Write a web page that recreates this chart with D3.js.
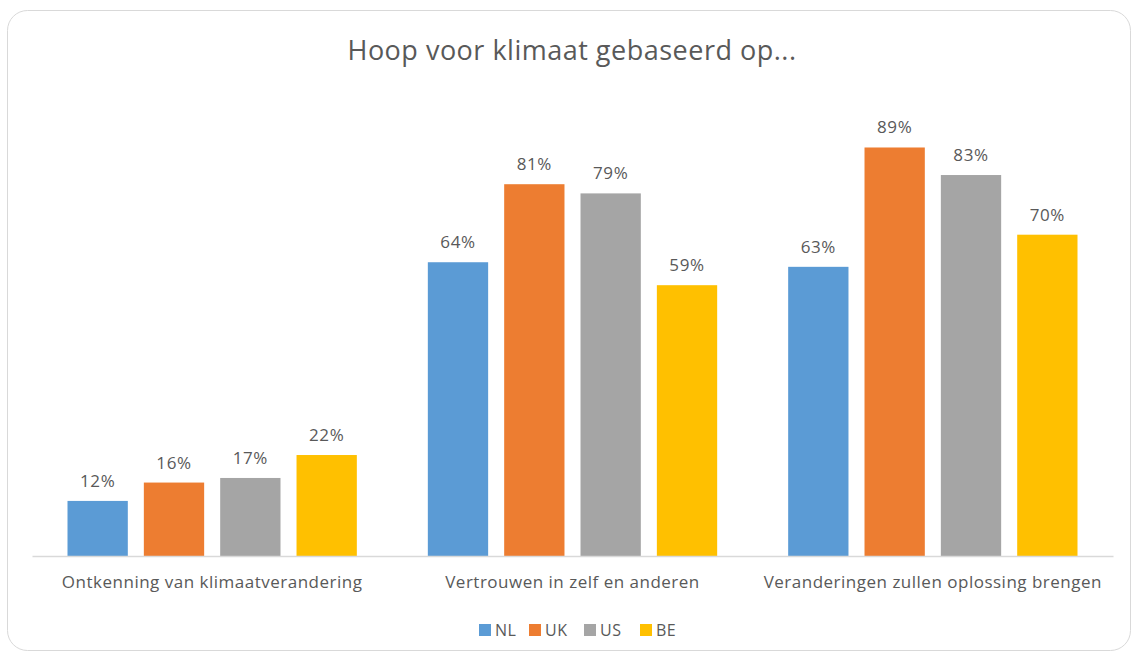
<!DOCTYPE html>
<html>
<head>
<meta charset="utf-8">
<script src="https://cdn.jsdelivr.net/npm/d3@7"></script>
<style>
  body { margin: 0; background: #fff; }
  text { font-family: "Open Sans", sans-serif; fill: #595959; }
</style>
</head>
<body>
<div id="chart-container"></div>
<script>
// grouped bar chart, hope for climate
const svgWidth = 1132;
const svgHeight = 657;
const margin = { top: 97, right: 19, bottom: 101, left: 32 };
const width = svgWidth - margin.left - margin.right;
const height = svgHeight - margin.top - margin.bottom;

const categories = ["Ontkenning van klimaatverandering", "Vertrouwen in zelf en anderen", "Veranderingen zullen oplossing brengen"];
const seriesNames = ["NL", "UK", "US", "BE"];
const NL = [0.12, 0.64, 0.63];
const UK = [0.16, 0.81, 0.89];
const US = [0.17, 0.79, 0.83];
const BE = [0.22, 0.59, 0.70];
const colors = ["#5b9bd5", "#ed7d31", "#a5a5a5", "#ffc000"];

const seriesValues = [NL, UK, US, BE];
const rows = [];
categories.forEach((c, i) => {
    seriesNames.forEach((s, j) => {
        rows.push({ cat: c, series: s, value: seriesValues[j][i] });
    });
});

const root = d3.select("#chart-container")
    .append("svg")
    .attr("width", svgWidth)
    .attr("height", svgHeight);

// card border
root.append("rect")
    .attr("x", 7.5)
    .attr("y", 10.5)
    .attr("width", 1123)
    .attr("height", 640)
    .attr("rx", 20)
    .attr("fill", "#fff")
    .attr("stroke", "#d9d9d9")
    .attr("stroke-width", 1);

root.append("text")
    .text("Hoop voor klimaat gebaseerd op...")
    .attr("x", 572)
    .attr("y", 60)
    .attr("text-anchor", "middle")
    .style("font-size", "27px")
    .style("letter-spacing", "0.5px");

const svg = root.append("g")
    .attr("transform", `translate(${margin.left},${margin.top})`);

const x0 = d3.scaleBand()
    .domain(categories)
    .range([0, width])
    .paddingInner(0)
    .paddingOuter(0);

const x1 = d3.scaleBand()
    .domain(seriesNames)
    .range([35.5, x0.bandwidth() - 35.5])
    .paddingInner(0.21);

const y = d3.scaleLinear()
    .domain([0, 1])
    .range([height, 0]);

const color = d3.scaleOrdinal().domain(seriesNames).range(colors);

// bars
svg.selectAll(".bar")
    .data(rows)
    .enter()
    .append("rect")
    .attr("class", "bar")
    .attr("x", d => x0(d.cat) + x1(d.series))
    .attr("y", d => y(d.value))
    .attr("width", x1.bandwidth())
    .attr("height", d => height - y(d.value))
    .attr("fill", d => color(d.series));

svg.selectAll(".barLabel")
    .data(rows)
    .enter()
    .append("text")
    .attr("class", "barLabel")
    .text(d => `${Math.round(d.value * 100)}%`)
    .attr("x", d => x0(d.cat) + x1(d.series) + x1.bandwidth() / 2)
    .attr("y", d => y(d.value) - 14)
    .attr("text-anchor", "middle")
    .style("font-size", "17px")
    .style("letter-spacing", "0.6px");

// x axis
const xAxis = svg.append("g")
    .attr("class", "axis axis-x")
    .attr("transform", `translate(0, ${height})`)
    .call(d3.axisBottom(x0).tickSize(0).tickPadding(20));
xAxis.select(".domain").attr("stroke", "#d9d9d9").attr("stroke-width", 1.5);
xAxis.selectAll("text")
    .style("font-size", "17px")
    .style("letter-spacing", "0.5px")
    .style("font-family", "\"Open Sans\", sans-serif")
    .attr("fill", "#595959");

// legend
const legendX = [479, 529, 584, 640];
const legend = root.selectAll(".legend")
    .data(seriesNames)
    .enter()
    .append("g")
    .attr("class", "legend")
    .attr("transform", (d, i) => `translate(${legendX[i]}, 624)`);
legend.append("rect")
    .attr("width", 12)
    .attr("height", 12)
    .attr("fill", d => color(d));
legend.append("text")
    .text(d => d)
    .attr("x", 16)
    .attr("y", 12)
    .style("font-size", "16px")
    .style("letter-spacing", "0.5px");
</script>
</body>
</html>
